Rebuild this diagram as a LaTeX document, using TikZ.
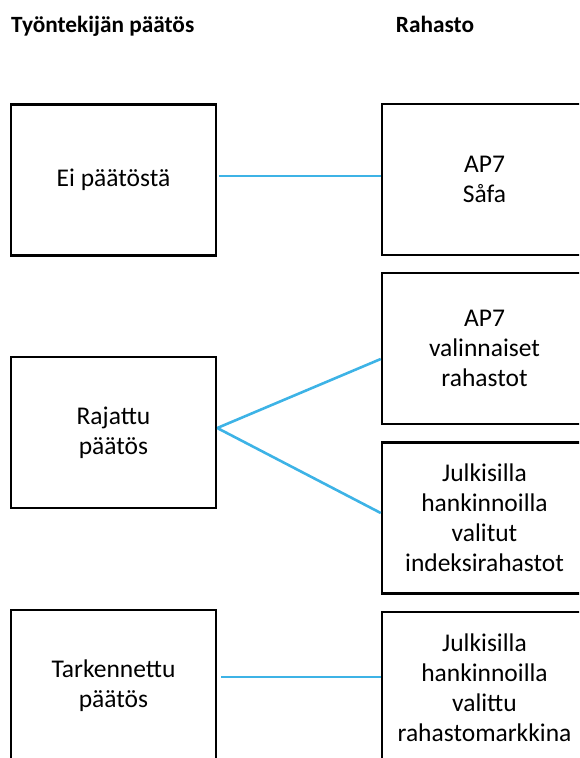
\documentclass[tikz,border=0pt]{standalone}
\usepackage{fontspec}
\setmainfont{Carlito}
\definecolor{linkblue}{HTML}{3DB3E6}
\begin{document}
\begin{tikzpicture}[x=1pt,y=-1pt,
  box/.style={draw=black,line width=2.5pt,minimum width=205pt,minimum height=151pt,inner sep=0pt,align=center,font=\fontsize{25.5}{30}\selectfont},
  head/.style={font=\fontsize{23.3}{27}\selectfont\bfseries,inner sep=0pt},
  link/.style={draw=linkblue,line width=2.6pt}]
\clip (0,0) rectangle (579,758);
\node[head,anchor=base west] (h1) at (11,32) {Työntekijän päätös};
\node[head,anchor=base] (h2) at (435,32) {Rahasto};
\node[box] (l1) at (113.5,180) {Ei päätöstä};
\node[box] (l2) at (113.5,432.5) {Rajattu\\päätös};
\node[box] (l3) at (113.5,685.5) {Tarkennettu\\päätös};
\node[box] (r1) at (484.5,179.5) {AP7\\Såfa};
\node[box] (r2) at (484.5,348.5) {AP7\\valinnaiset\\rahastot};
\node[box] (r3) at (484.5,518) {Julkisilla\\hankinnoilla\\valitut\\indeksirahastot};
\node[box] (r4) at (484.5,687.5) {Julkisilla\\hankinnoilla\\valittu\\rahastomarkkina};
\draw[link] ([xshift=2pt,yshift=4pt]l1.east) -- ([yshift=3.5pt]r1.west);
\draw[link] ([yshift=4.5pt]l2.east) -- ([yshift=-10.5pt]r2.west);
\draw[link] ([yshift=4.5pt]l2.east) -- ([yshift=5pt]r3.west);
\draw[link] ([xshift=4pt,yshift=8.5pt]l3.east) -- ([yshift=10.5pt]r4.west);
\end{tikzpicture}
\end{document}
